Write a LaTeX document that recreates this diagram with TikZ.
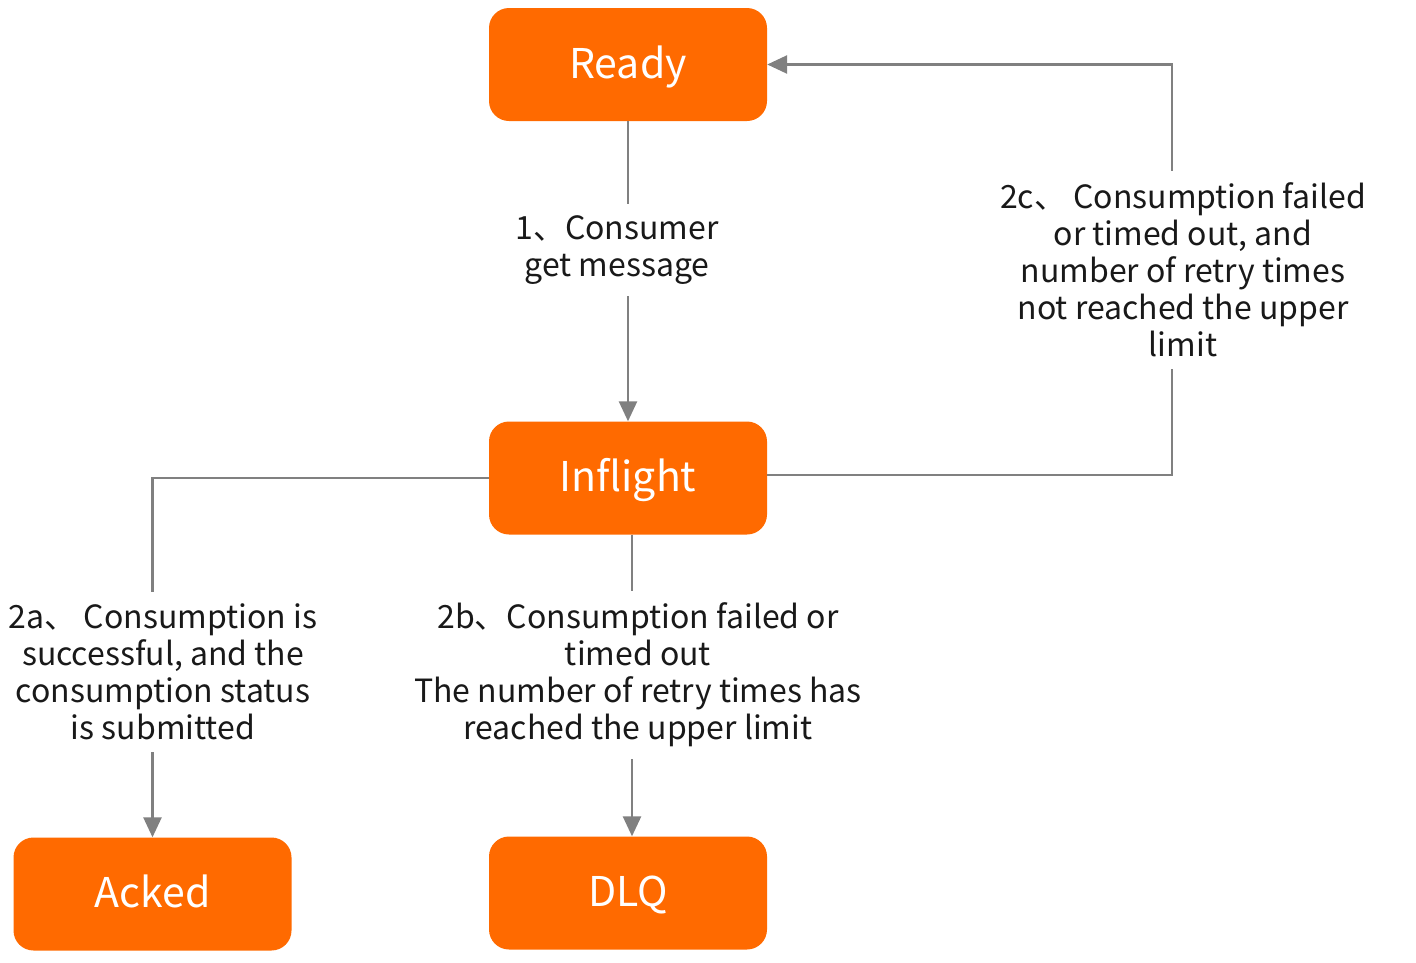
\documentclass[tikz,border=0pt]{standalone}
\usepackage{fontspec}
\setmainfont{Noto Sans CJK SC}
\usetikzlibrary{positioning,arrows.meta}
\definecolor{stateorange}{HTML}{FF6A00}
\definecolor{linegray}{HTML}{808080}
\tikzset{line/.style={draw=linegray, line width=2.6pt, -{Triangle[length=20pt,width=18pt]}}}
\begin{document}
\begin{tikzpicture}[x=1pt,y=-1pt,
  state/.style={rectangle,rounded corners=20pt,fill=stateorange,text=white,
    minimum width=278pt,minimum height=113pt,text height=27pt,text depth=0pt,
    font=\fontsize{41}{48}\selectfont},
  note/.style={align=center,fill=white,inner xsep=12pt,inner ysep=12pt,text=black!90,
    font=\fontsize{32}{37}\selectfont}]
\useasboundingbox (0,0) rectangle (1416,962);
\node [state] (ready) at (628,64.5) {Ready};
\node [state] (inflight) at (628,478) {Inflight};
\node [state] (acked) at (152.5,894) {Acked};
\node [state] (dlq) at (628,893) {DLQ};
\coordinate (retry) at (1172,475);
% transitions
\draw [line] (ready) -- (inflight);
\draw [line] (inflight.west) -| (acked.north);
\draw [line] ([xshift=4pt]inflight.south) -- ([xshift=4pt]dlq.north);
\draw [line] (inflight.east |- retry) -- (retry) |- (ready.east);
% labels
\node [note] (get) at (617,250) {1、Consumer\\get message};
\node [note] (success) at (163,672) {2a、 Consumption is\\successful, and the\\consumption status\\is submitted};
\node [note] (dead) at (638,675) {2b、Consumption failed or\\timed out\\The number of retry times has\\reached the upper limit};
\node [note] (again) at (1183,270) {2c、 Consumption failed\\or timed out, and\\number of retry times\\not reached the upper\\limit};
\end{tikzpicture}
\end{document}
